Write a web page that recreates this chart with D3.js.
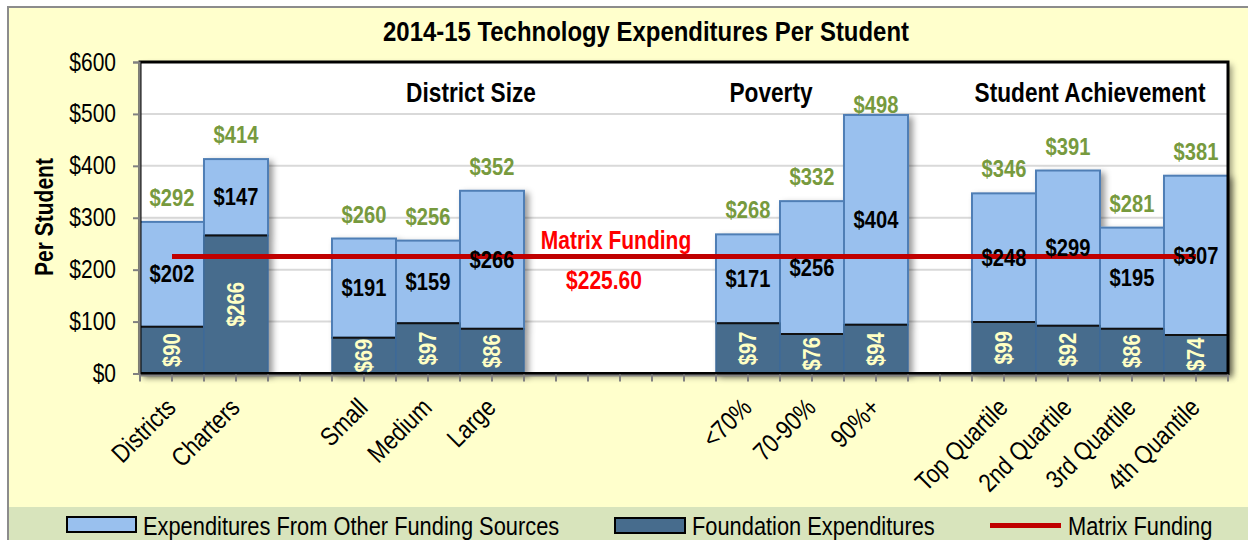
<!DOCTYPE html>
<html><head><meta charset="utf-8">
<script src="https://cdn.jsdelivr.net/npm/d3@7"></script>
<style>
html,body{margin:0;padding:0;background:#fff;}
svg{display:block;}
text{font-family:"Liberation Sans Narrow","Arial Narrow","Liberation Sans",Arial,sans-serif;}
</style></head><body>
<svg id="chart" width="1248" height="540"></svg>
<script>
// ---- data ----
const categories = ["Districts","Charters","","Small","Medium","Large","","","","<70%","70-90%","90%+","","Top Quartile","2nd Quartile","3rd Quartile","4th Quantile"];
const foundation   = [90,266,null,69,97,86,null,null,null,97,76,94,null,99,92,86,74];
const otherSources = [202,147,null,191,159,266,null,null,null,171,256,404,null,248,299,195,307];
const totals       = [292,414,null,260,256,352,null,null,null,268,332,498,null,346,391,281,381];
const matrixFunding = 225.6;
const yTicks = [0,100,200,300,400,500,600];
const groupLabels = ["District Size","Poverty","Student Achievement"];
const legendLabels = ["Expenditures From Other Funding Sources","Foundation Expenditures","Matrix Funding"];
const title = "2014-15 Technology Expenditures Per Student";

// ---- styles ----
const C = {
  bg:"#FFFFCC", legendBg:"#D8E4BC", light:"#99C0EE", lightStroke:"#4F7EB5",
  dark:"#476C8D", darkStroke:"#3E6A98", total:"#779A3E", fLabel:"#FFFFC4",
  matrix:"#C00000", matrixText:"#FF0000", axis:"#808080", grid:"#D9D9D9"
};
const BOLD = 700;
const SX = 0.84; // horizontal condensing to mimic a narrow typeface

const svg = d3.select("#chart");
const W = 1248, H = 540;
const plot = {left:140, right:1228, top:62, bottom:373.5};

const idx = d3.range(categories.length);
const x = d3.scaleBand().domain(idx).range([plot.left, plot.right]).padding(0);
const y = d3.scaleLinear().domain([0,600]).range([plot.bottom, plot.top]);
const bw = x.bandwidth();
const cx = i => x(i) + bw/2;
const narrow = (px, py, rot=0) => `translate(${px},${py}) rotate(${rot}) scale(${SX},1)`;

// defs: shadow
const defs = svg.append("defs");
const f = defs.append("filter").attr("id","shadow").attr("x","-20%").attr("y","-20%").attr("width","150%").attr("height","150%");
f.append("feDropShadow").attr("dx",4).attr("dy",3).attr("stdDeviation",3).attr("flood-color","#000").attr("flood-opacity",0.4);

// background
svg.append("rect").attr("x",8).attr("y",7).attr("width",W+20).attr("height",H+20)
  .attr("fill",C.bg).attr("stroke","#8C8C8C").attr("stroke-width",2);
svg.append("rect").attr("x",9).attr("y",507).attr("width",W).attr("height",40).attr("fill",C.legendBg);

// title
svg.append("text").attr("transform",narrow(646,41)).attr("text-anchor","middle")
  .attr("font-size",28.5).attr("font-weight",BOLD).attr("fill","#000").text(title);

// plot area
svg.append("rect").attr("x",plot.left).attr("y",plot.top).attr("width",plot.right-plot.left).attr("height",plot.bottom-plot.top)
  .attr("fill","#fff").attr("filter","url(#shadow)");

// gridlines
svg.append("g").selectAll("line").data(yTicks.filter(t=>t>0 && t<600)).join("line")
  .attr("x1",plot.left).attr("x2",plot.right).attr("y1",d=>y(d)).attr("y2",d=>y(d))
  .attr("stroke",C.grid).attr("stroke-width",2);

// bars
const barIdx = idx.filter(i => foundation[i] != null);
const bars = svg.append("g").attr("filter","url(#shadow)");
bars.selectAll("rect.other").data(barIdx).join("rect").attr("class","other")
  .attr("x",i=>x(i)).attr("width",bw)
  .attr("y",i=>y(foundation[i]+otherSources[i]))
  .attr("height",i=>y(foundation[i]) - y(foundation[i]+otherSources[i]))
  .attr("fill",C.light).attr("stroke",C.lightStroke).attr("stroke-width",2);
bars.selectAll("rect.found").data(barIdx).join("rect").attr("class","found")
  .attr("x",i=>x(i)).attr("width",bw)
  .attr("y",i=>y(foundation[i]))
  .attr("height",i=>y(0) - y(foundation[i]))
  .attr("fill",C.dark).attr("stroke",C.darkStroke).attr("stroke-width",1.5);
svg.append("g").selectAll("line").data(barIdx).join("line")
  .attr("x1",i=>x(i)+1).attr("x2",i=>x(i)+bw-1)
  .attr("y1",i=>y(foundation[i])).attr("y2",i=>y(foundation[i]))
  .attr("stroke","#111").attr("stroke-width",2);

// plot frame
svg.append("rect").attr("x",plot.left).attr("y",plot.top).attr("width",plot.right-plot.left).attr("height",plot.bottom-plot.top)
  .attr("fill","none").attr("stroke","#000").attr("stroke-width",3);

// y axis
const yAxis = svg.append("g").attr("transform",`translate(${plot.left-1},0)`)
  .call(d3.axisLeft(y).tickValues(yTicks).tickSize(6).tickFormat(d=>"$"+d));
yAxis.select(".domain").attr("stroke",C.axis).attr("stroke-width",2);
yAxis.selectAll(".tick line").attr("stroke",C.axis).attr("stroke-width",2);
yAxis.selectAll(".tick text").attr("x",0).attr("transform","translate(-23,0) scale("+SX+",1)")
  .attr("font-size",25).attr("fill","#000").attr("font-family",null);

// x axis
const xTickPos = d3.range(categories.length*2+1).map(k => plot.left + k*bw/2);
const xg = svg.append("g");
xg.append("line").attr("x1",plot.left).attr("x2",plot.right).attr("y1",plot.bottom+2).attr("y2",plot.bottom+2)
  .attr("stroke",C.axis).attr("stroke-width",2);
xg.selectAll("line.t").data(xTickPos).join("line").attr("class","t")
  .attr("x1",d=>d).attr("x2",d=>d).attr("y1",plot.bottom+1).attr("y2",plot.bottom+8)
  .attr("stroke",C.axis).attr("stroke-width",2);
xg.selectAll("text").data(idx.filter(i=>categories[i])).join("text")
  .attr("transform",i=>narrow(cx(i)-8, 396, -45))
  .attr("text-anchor","end").attr("dy","0.72em").attr("font-size",26).attr("fill","#000")
  .text(i=>categories[i]);

// y axis title
svg.append("text").attr("transform",narrow(44,217,-90))
  .attr("text-anchor","middle").attr("dominant-baseline","central")
  .attr("font-size",25).attr("font-weight",BOLD).text("Per Student");

// group headers
const groupPos = [cx(5)-21, x(10)-9, x(15)-10];
svg.append("g").selectAll("text").data(groupLabels).join("text")
  .attr("transform",(d,k)=>narrow(groupPos[k],102)).attr("text-anchor","middle")
  .attr("font-size",27).attr("font-weight",BOLD).text(d=>d);

// matrix funding line
const line = d3.line().x(d=>cx(d)).y(()=>y(matrixFunding));
svg.append("path").attr("d",line([idx[0], idx[idx.length-1]]))
  .attr("stroke",C.matrix).attr("stroke-width",5).attr("fill","none");
svg.append("text").attr("transform",narrow(x(7)+bw/2-4, y(matrixFunding)-7)).attr("text-anchor","middle")
  .attr("font-size",25).attr("font-weight",BOLD).attr("fill",C.matrixText).text("Matrix Funding");
svg.append("text").attr("transform",narrow(x(7)+16, y(matrixFunding)+33)).attr("text-anchor","middle")
  .attr("font-size",25).attr("font-weight",BOLD).attr("fill",C.matrixText).text("$"+matrixFunding.toFixed(2));

// data labels
const lab = svg.append("g");
lab.selectAll("text.tot").data(barIdx).join("text").attr("class","tot")
  .attr("transform",i=>narrow(cx(i), Math.max(y(foundation[i]+otherSources[i])-16, plot.top+51)))
  .attr("text-anchor","middle").attr("font-size",24).attr("font-weight",BOLD).attr("fill",C.total)
  .text(i=>"$"+totals[i]);
lab.selectAll("text.oth").data(barIdx).join("text").attr("class","oth")
  .attr("transform",i=>narrow(cx(i), (y(foundation[i])+y(foundation[i]+otherSources[i]))/2))
  .attr("dominant-baseline","central").attr("text-anchor","middle")
  .attr("font-size",24).attr("font-weight",BOLD).attr("fill","#000")
  .text(i=>"$"+otherSources[i]);
lab.selectAll("text.fnd").data(barIdx).join("text").attr("class","fnd")
  .attr("transform",i=>narrow(cx(i), (y(0)+y(foundation[i]))/2, -90))
  .attr("dominant-baseline","central").attr("text-anchor","middle")
  .attr("font-size",24).attr("font-weight",BOLD).attr("fill",C.fLabel)
  .text(i=>"$"+foundation[i]);

// legend
const lg = svg.append("g");
lg.append("rect").attr("x",67).attr("y",517).attr("width",69).attr("height",15)
  .attr("fill",C.light).attr("stroke","#000").attr("stroke-width",2);
lg.append("text").attr("transform",narrow(143,535)).attr("font-size",26).text(legendLabels[0]);
lg.append("rect").attr("x",615).attr("y",518).attr("width",70).attr("height",15)
  .attr("fill",C.dark).attr("stroke","#000").attr("stroke-width",2);
lg.append("text").attr("transform",narrow(692,535)).attr("font-size",26).text(legendLabels[1]);
lg.append("line").attr("x1",990).attr("x2",1061).attr("y1",525.5).attr("y2",525.5)
  .attr("stroke",C.matrix).attr("stroke-width",5);
lg.append("text").attr("transform",narrow(1068,535)).attr("font-size",26).text(legendLabels[2]);
</script>
</body></html>
